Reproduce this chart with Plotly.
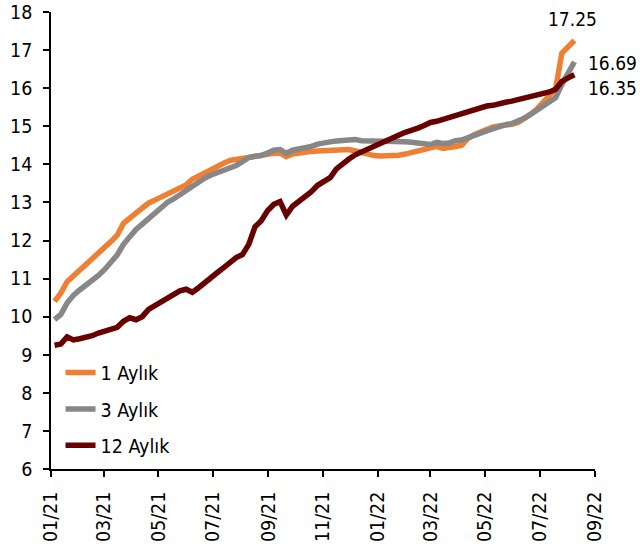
import pandas as pd
import plotly.graph_objects as go

# Weekly observation dates
dates = pd.date_range("2021-01-05", periods=84, freq="7D")

series_names = ["1 Aylık", "3 Aylık", "12 Aylık"]

aylik_1 = [10.40, 10.62, 10.92, 11.07, 11.21, 11.35, 11.50, 11.64, 11.79, 11.97,
           12.14, 12.45, 12.59, 12.72, 12.87, 12.98, 13.06, 13.14, 13.23, 13.30,
           13.40, 13.46, 13.61, 13.70, 13.78, 13.88, 13.96, 14.03, 14.10, 14.13,
           14.16, 14.19, 14.22, 14.25, 14.27, 14.29, 14.30, 14.20, 14.27, 14.30,
           14.32, 14.34, 14.35, 14.36, 14.37, 14.39, 14.39, 14.39, 14.35, 14.30,
           14.26, 14.23, 14.22, 14.22, 14.22, 14.24, 14.27, 14.31, 14.35, 14.40,
           14.44, 14.47, 14.42, 14.43, 14.47, 14.50, 14.68, 14.78, 14.85, 14.92,
           14.98, 15.01, 15.02, 15.05, 15.10, 15.20, 15.32, 15.45, 15.62, 15.80,
           15.98, 16.92, 17.08, 17.25]

aylik_3 = [9.92, 10.06, 10.36, 10.56, 10.70, 10.82, 10.94, 11.08, 11.24, 11.44,
           11.62, 11.90, 12.12, 12.29, 12.43, 12.57, 12.72, 12.86, 13.00, 13.09,
           13.20, 13.29, 13.44, 13.55, 13.64, 13.72, 13.78, 13.85, 13.92, 13.97,
           14.07, 14.18, 14.21, 14.23, 14.30, 14.37, 14.39, 14.29, 14.37, 14.40,
           14.42, 14.47, 14.53, 14.57, 14.59, 14.61, 14.62, 14.64, 14.65, 14.62,
           14.62, 14.61, 14.61, 14.61, 14.60, 14.60, 14.59, 14.58, 14.56, 14.54,
           14.52, 14.58, 14.55, 14.56, 14.62, 14.64, 14.69, 14.76, 14.82, 14.88,
           14.94, 15.00, 15.04, 15.07, 15.13, 15.21, 15.31, 15.41, 15.52, 15.61,
           15.75, 16.10, 16.38, 16.69]

aylik_12 = [9.25, 9.28, 9.47, 9.39, 9.42, 9.45, 9.50, 9.57, 9.63, 9.67,
            9.72, 9.88, 9.97, 9.92, 10.00, 10.19, 10.29, 10.38, 10.48, 10.58,
            10.68, 10.72, 10.64, 10.76, 10.88, 11.02, 11.16, 11.29, 11.42, 11.55,
            11.63, 11.90, 12.36, 12.52, 12.78, 12.95, 13.02, 12.67, 12.90, 13.03,
            13.14, 13.28, 13.45, 13.55, 13.65, 13.88, 14.03, 14.14, 14.25, 14.33,
            14.41, 14.47, 14.53, 14.62, 14.70, 14.77, 14.84, 14.88, 14.95, 15.02,
            15.10, 15.13, 15.18, 15.24, 15.30, 15.35, 15.41, 15.45, 15.48, 15.53,
            15.55, 15.60, 15.63, 15.66, 15.70, 15.73, 15.77, 15.82, 15.86, 15.90,
            15.97, 16.18, 16.27, 16.35]

y_ticks = list(range(6, 19))
x_tick_dates = pd.date_range("2021-01-01", "2022-09-01", freq="2MS")

colors = ["#EE7F33", "#878787", "#680000"]
FONT = "DejaVu Sans Condensed"
FS = 19.5

fig = go.Figure()
for i, (name, vals) in enumerate(zip(series_names, [aylik_1, aylik_3, aylik_12])):
    fig.add_trace(go.Scatter(
        x=dates, y=vals, mode="lines", name=name, legendgroup=f"g{i}",
        line=dict(color=colors[i], width=5.5, shape="linear"),
    ))

# End-of-series value labels
offsets = [dict(xanchor="center", yanchor="middle", xshift=-2, yshift=22),
           dict(xanchor="left", yanchor="middle", xshift=12, yshift=-1),
           dict(xanchor="left", yanchor="middle", xshift=12, yshift=-13)]
for vals, off in zip([aylik_1, aylik_3, aylik_12], offsets):
    fig.add_annotation(x=dates[-1], y=vals[-1], text=f"{vals[-1]:.2f}",
                       showarrow=False, font=dict(family=FONT, size=19, color="#000"),
                       **off)

fig.update_layout(
    width=640, height=548,
    margin=dict(l=51, r=45, t=12, b=79, autoexpand=False),
    paper_bgcolor="white", plot_bgcolor="white",
    font=dict(family=FONT, size=FS, color="#000"),
    showlegend=True,
    legend=dict(x=0.0175, y=0.253, xanchor="left", yanchor="top",
                bgcolor="rgba(0,0,0,0)", traceorder="grouped",
                tracegroupgap=8, font=dict(family=FONT, size=FS)),
    xaxis=dict(type="date", range=[x_tick_dates[0], x_tick_dates[-1]], automargin=False,
               tickvals=list(x_tick_dates), ticktext=[d.strftime("%m/%y") for d in x_tick_dates],
               tickangle=-90, ticks="outside", ticklen=6, tickwidth=1.5, tickcolor="#000",
               ticklabelstandoff=7, ticklabeloverflow="allow",
               showline=True, linecolor="#000", linewidth=1.5, showgrid=False, zeroline=False,
               tickfont=dict(family=FONT, size=FS)),
    yaxis=dict(range=[6, 18], tickvals=y_ticks, ticks="outside", ticklen=6, tickwidth=1.5,
               automargin=False, ticklabelstandoff=7, ticklabeloverflow="allow",
               tickcolor="#000", showline=True, linecolor="#000", linewidth=1.5,
               showgrid=False, zeroline=False, tickfont=dict(family=FONT, size=FS)),
)

fig.write_html("out.html", config={"displayModeBar": False},
               post_script="document.body.style.margin='0';document.body.style.overflow='hidden';")
